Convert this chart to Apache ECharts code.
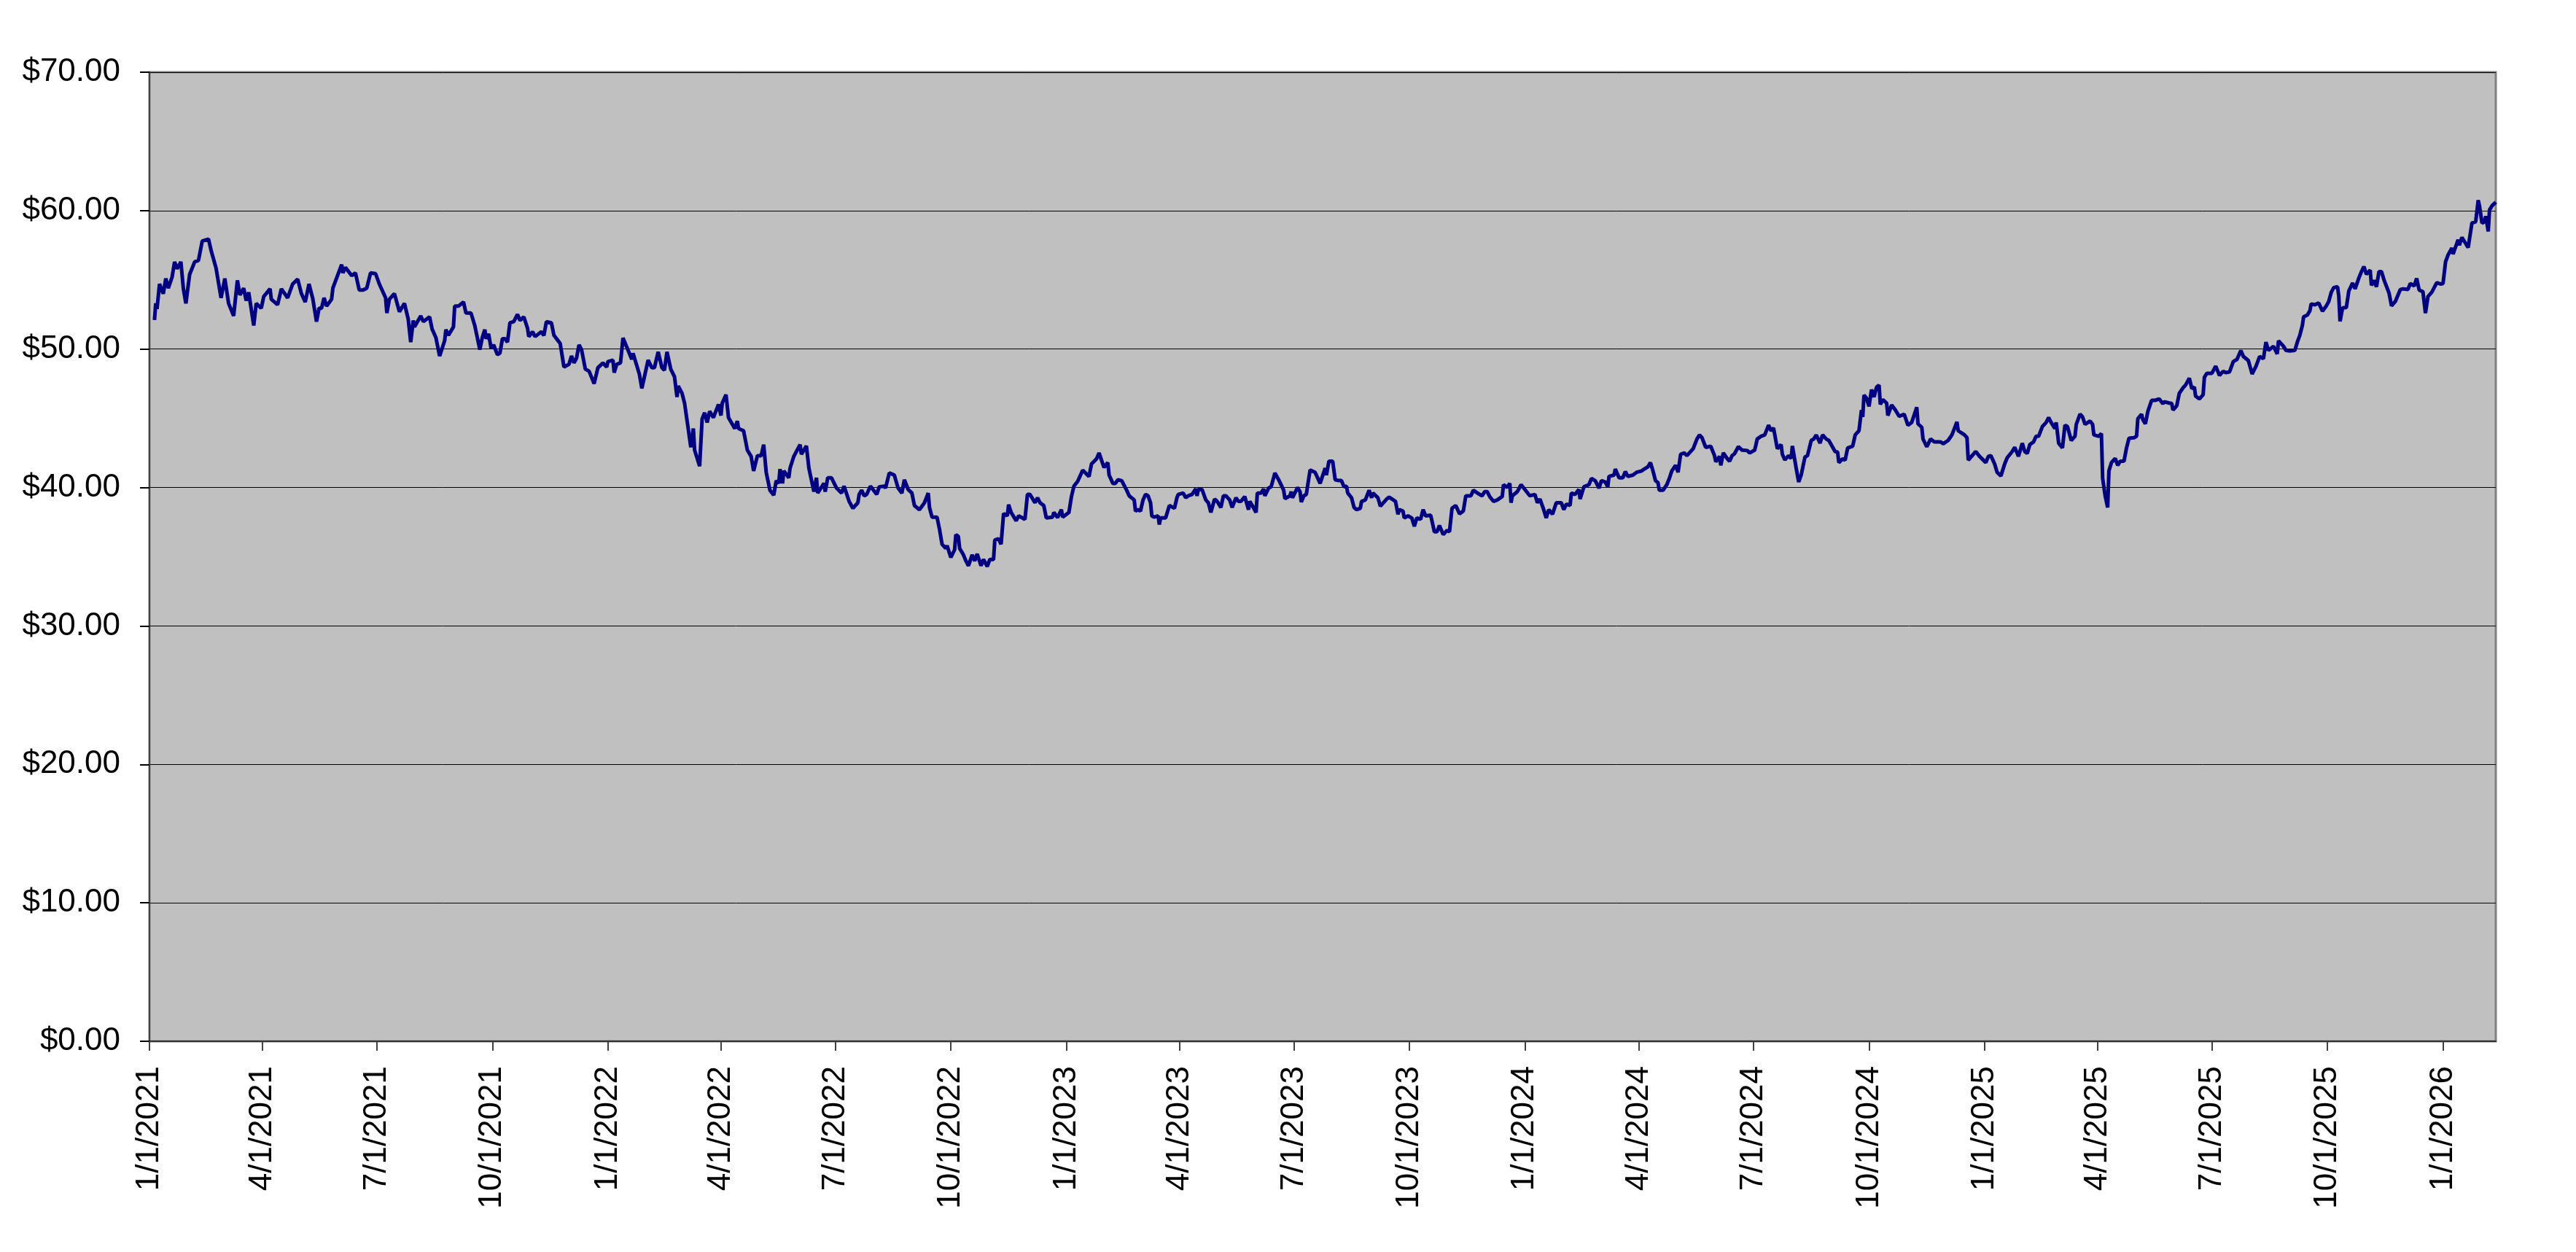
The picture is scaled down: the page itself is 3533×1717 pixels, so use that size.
<!DOCTYPE html>
<html>
<head>
<meta charset="utf-8">
<script src="https://cdn.jsdelivr.net/npm/echarts@6/dist/echarts.min.js"></script>
<style>
html,body{margin:0;padding:0;background:#ffffff;}
#chart{width:3533px;height:1717px;}
</style>
</head>
<body>
<div id="chart"></div>
<script>
// Start date of the date axis (day offsets below are counted from it)
const startDate = '1/1/2021';

// X tick labels (quarter starts)
const tickLabels = ['1/1/2021','4/1/2021','7/1/2021','10/1/2021','1/1/2022','4/1/2022','7/1/2022','10/1/2022',
  '1/1/2023','4/1/2023','7/1/2023','10/1/2023','1/1/2024','4/1/2024','7/1/2024','10/1/2024',
  '1/1/2025','4/1/2025','7/1/2025','10/1/2025','1/1/2026'];

// Y ticks
const yMin = 0, yMax = 70, yStep = 10;

// Day offsets from startDate
const dayOffsets = [
4,5,6,8,11,13,15,18,20,22,25,27,29,32,36,39,42,47,49,53,57,60,63,67,70,72,75,77,79,83,85,89,91,96,97,102,105,110,114,118,121,124,127,130,133,135,137,139,141,145,146,153,154,156,161,164,167,170,173,176,180,183,188,189,191,195,199,203,206,208,210,211,216,218,223,225,228,231,235,236,238,242,243,246,250,252,256,259,263,265,267,
268,270,272,274,277,279,281,283,285,287,290,293,295,298,301,302,305,307,312,314,316,320,322,327,330,334,336,338,340,342,344,347,350,354,357,361,364,365,369,370,372,375,377,380,384,385,390,392,397,400,402,405,408,410,412,415,418,420,421,424,426,429,431,433,434,438,440,442,444,446,449,453,455,456,459,461,466,468,469,473,476,479,481,484,487,489,491,494,497,499,501,502,504,505,509,510,513,518,519,523,525,529,531,
532,537,538,540,543,547,551,553,557,560,564,565,567,569,571,574,579,581,585,586,589,593,596,599,601,604,607,609,613,617,620,621,623,627,629,631,634,635,638,641,642,644,645,648,650,652,655,657,659,662,664,667,669,672,673,676,678,680,683,684,686,690,692,697,699,701,705,707,709,712,714,719,720,723,726,727,732,734,736,739,743,748,750,754,756,758,760,763,764,767,769,771,774,778,780,784,785,787,789,791,793,795,
797,798,800,803,804,805,809,812,814,816,818,819,823,825,827,830,833,834,835,838,841,843,845,848,850,853,855,857,860,862,865,867,869,872,875,876,878,881,882,885,887,888,891,893,896,899,903,904,908,909,910,914,916,917,919,921,924,928,932,936,937,939,942,944,947,949,951,953,954,957,959,961,964,965,968,971,973,974,978,980,985,987,992,994,995,998,999,1002,1005,1007,1009,1012,1014,1016,1020,1023,1025,1027,1030,1033,1035,1037,1040,1043,1046,1048,1052,1054,1059,
1061,1063,1065,1067,1070,1073,1077,1078,1081,1083,1084,1085,1089,1092,1095,1099,1103,1105,1107,1110,1112,1114,1117,1120,1124,1126,1128,1131,1132,1135,1138,1139,1142,1146,1148,1151,1154,1156,1159,1161,1162,1166,1167,1170,1173,1175,1177,1181,1184,1188,1190,1193,1195,1197,1199,1201,1202,1205,1208,1210,1212,1215,1217,1219,1222,1224,1229,1232,1234,1236,1239,1243,1246,1247,1250,1251,1253,1256,1258,1260,1262,1265,1268,1272,1274,1278,1280,1283,1286,1289,1291,1293,1296,1299,1300,1302,1305,1307,1308,1311,1313,1315,1318,1320,1323,
1325,1327,1330,1332,1335,1337,1338,1342,1344,1345,1348,1350,1352,1356,1358,1361,1363,1364,1365,1367,1369,1371,1373,1375,1377,1378,1380,1383,1384,1387,1390,1393,1397,1400,1403,1405,1407,1408,1411,1412,1415,1418,1421,1426,1428,1432,1435,1437,1439,1440,1445,1447,1448,1454,1457,1462,1464,1466,1469,1471,1474,1477,1479,1483,1485,1488,1491,1493,1495,1497,1500,1502,1504,1507,1510,1512,1514,1517,1518,1520,1523,1525,1527,1530,1533,1534,1537,1539,1541,1545,1547,1548,1552,1554,1555,1557,1559,1560,1562,1565,1567,1569,1572,1574,1576,1580,1582,1583,1586,1587,
1589,1591,1594,1597,1600,1603,1604,1608,1610,1611,1614,1616,1619,1621,1624,1626,1628,1629,1632,1635,1636,1638,1642,1645,1648,1651,1653,1656,1659,1662,1665,1667,1671,1674,1677,1680,1683,1685,1687,1691,1694,1695,1699,1701,1704,1708,1710,1712,1714,1715,1718,1720,1721,1724,1727,1730,1733,1735,1737,1739,1742,1743,1744,1746,1749,1751,1754,1756,1759,1761,1763,1765,1768,1769,1771,1773,1775,1777,1779,1783,1785,1788,1792,1794,1798,1800,1803,1805,1807,1810,1812,1814,1817,1821,1824,1826,1828,1830,1833,1834,1838,1839,1841,1846,1849,1852,1854,1855,1857,1859,1860,1862,1863,1865,1868
];

// Prices
const prices = [
52.1,53.3,52.9,54.7,54.0,55.1,54.4,55.2,56.3,55.8,56.3,54.35,53.3,55.4,56.3,56.4,57.8,57.95,57.15,55.85,53.7,55.1,53.3,52.4,54.96,53.9,54.4,53.5,54.1,51.7,53.3,52.95,53.8,54.35,53.6,53.2,54.35,53.7,54.7,55.05,54.0,53.4,54.7,53.65,51.98,52.95,52.95,53.7,53.1,53.6,54.4,56.1,55.5,55.9,55.3,55.5,54.26,54.26,54.4,55.5,55.45,54.7,53.7,52.6,53.6,54.0,52.7,53.3,52.16,50.5,52.07,51.6,52.4,51.98,52.33,51.45,50.84,49.5,50.6,51.4,51.0,51.6,53.1,53.1,53.4,52.6,52.6,51.7,49.96,50.84,51.4,
50.75,51.1,50.05,50.3,49.6,49.7,50.75,50.75,50.5,51.9,51.98,52.5,52.07,52.33,51.5,50.9,51.25,50.9,51.25,50.98,51.98,51.9,51.0,50.4,48.7,48.9,49.5,49.0,49.35,50.3,49.96,48.56,48.4,47.5,48.65,49.0,48.7,49.1,49.2,48.3,48.9,49.0,50.8,50.14,49.26,49.7,48.2,47.16,49.2,48.65,48.65,49.8,48.65,48.47,49.8,48.56,48.0,46.54,47.33,46.8,46.1,44.2,42.9,44.26,42.7,41.54,44.96,45.4,44.7,45.5,45.05,46.0,45.2,46.1,46.7,45.05,44.26,44.8,44.26,44.1,42.7,42.25,41.2,42.3,42.3,43.1,41.1,39.8,39.45,40.5,40.3,41.33,40.3,41.2,40.7,41.4,42.25,43.1,42.4,43.0,41.4,39.7,40.7,
39.6,40.3,39.7,40.7,40.7,39.96,39.6,40.1,39.0,38.5,38.9,39.5,39.8,39.4,39.5,40.1,39.5,40.05,40.1,39.96,41.05,40.9,39.96,39.6,40.56,39.86,39.6,38.7,38.4,38.9,39.6,38.56,37.86,37.86,36.98,35.9,35.6,35.8,34.95,35.5,36.6,36.46,35.6,35.14,34.7,34.35,35.14,34.7,35.2,34.35,34.8,34.3,34.8,34.8,36.2,36.3,35.9,38.12,37.95,38.77,38.2,37.6,37.95,37.7,39.5,39.5,38.9,39.26,38.9,38.7,37.8,37.86,38.2,37.83,38.4,37.86,38.2,39.33,40.1,40.45,41.26,40.8,41.7,42.07,42.5,41.96,41.45,41.8,40.9,40.3,40.3,40.56,40.5,39.8,39.4,39.1,38.3,38.4,38.3,39.1,39.5,39.4,
38.9,37.95,37.86,37.95,37.33,37.8,37.8,38.7,38.6,38.5,39.26,39.5,39.6,39.26,39.4,39.5,39.9,39.4,39.86,39.86,39.1,38.9,38.2,39.17,39.0,38.56,39.4,39.4,39.1,38.56,39.26,39.0,39.0,39.35,38.4,39.0,38.7,38.2,39.6,39.6,39.9,39.4,39.96,40.05,41.05,40.56,39.8,39.2,39.4,39.7,39.26,40.0,39.7,38.95,39.4,39.5,41.26,41.1,40.3,41.4,40.9,41.9,41.9,40.56,40.5,40.5,40.05,40.1,39.6,39.26,38.56,38.4,38.5,39.0,39.1,39.8,39.26,39.6,39.26,38.65,39.17,39.3,39.0,38.07,38.4,38.3,37.8,37.95,37.8,37.2,37.8,37.7,38.4,37.95,38.0,36.8,36.8,37.25,36.6,36.9,36.8,38.5,38.7,38.1,38.3,39.4,39.4,39.8,39.5,
39.4,39.7,39.7,39.35,39.0,39.1,39.35,40.2,40.0,40.3,38.9,39.4,39.7,40.2,39.86,39.4,39.5,38.9,39.17,38.4,37.8,38.4,38.07,38.9,38.9,38.4,38.8,38.7,39.6,39.5,39.86,39.17,40.05,40.2,40.65,40.5,39.96,40.5,40.4,40.05,40.8,40.9,41.33,40.7,40.7,41.15,40.8,40.9,41.1,41.2,41.33,41.5,41.8,41.2,40.5,40.35,39.8,39.8,40.2,40.65,41.2,41.6,41.1,42.4,42.5,42.3,42.8,43.5,43.8,43.6,42.9,42.98,42.3,41.86,42.25,41.6,42.5,42.1,41.9,42.3,42.45,42.95,42.7,42.67,42.5,42.7,43.5,43.7,43.8,44.5,44.1,44.3,42.8,43.1,42.4,42.0,42.3,42.1,43.0,41.4,40.4,40.9,42.2,42.3,43.4,
43.5,43.8,43.2,43.8,43.5,43.4,43.3,42.6,42.56,41.8,42.07,41.98,42.86,42.98,43.8,44.1,45.6,45.1,46.67,46.45,45.86,47.07,46.54,47.25,47.4,46.0,46.35,46.1,45.2,45.96,45.6,45.14,45.3,44.5,44.7,45.26,45.8,44.6,44.35,43.5,42.95,43.5,43.3,43.3,43.16,43.4,43.8,44.26,44.74,44.1,43.8,43.6,41.98,42.6,42.25,41.8,42.25,42.3,41.7,41.1,40.84,41.7,42.15,42.6,42.9,42.25,43.2,42.6,42.46,43.1,43.3,43.7,43.7,44.4,44.7,45.05,44.7,44.26,44.7,43.2,42.86,44.5,44.4,43.4,43.7,44.56,45.3,45.1,44.56,44.8,44.56,43.8,43.7,43.9,40.65,39.4,38.56,41.2,41.8,42.1,41.6,41.9,41.9,42.86,43.56,43.6,43.7,44.96,45.3,44.9,
44.6,45.5,46.3,46.3,46.4,46.05,46.2,46.1,46.07,45.6,45.9,46.8,47.2,47.4,47.9,47.15,47.25,46.6,46.4,46.7,47.96,48.25,48.25,48.77,48.1,48.4,48.3,48.35,49.1,49.26,49.9,49.47,49.17,48.2,48.74,49.47,49.3,50.5,49.9,50.2,49.65,50.6,50.2,49.9,49.86,49.9,50.5,51.0,51.7,52.33,52.46,52.77,53.26,53.2,53.33,52.74,53.1,53.44,54.1,54.44,54.5,53.83,52.0,52.98,53.0,54.2,54.77,54.35,55.14,55.58,55.96,55.4,55.7,54.6,54.97,54.5,55.6,55.6,55.0,54.05,53.12,53.44,54.3,54.35,54.3,54.74,54.56,55.1,54.26,54.14,52.6,53.8,54.1,54.8,54.7,54.74,56.3,56.8,57.3,56.86,57.9,57.5,58.07,57.33,59.1,59.2,60.75,60.35,59.1,59.2,59.6,58.5,60.05,60.35,60.6
];

function parseMDY(s) {
  const p = s.split('/').map(Number);
  return Date.UTC(p[2], p[0] - 1, p[1]);
}
const DAY = 86400000;
const t0 = parseMDY(startDate);
const tickDays = tickLabels.map(s => Math.round((parseMDY(s) - t0) / DAY));
const labelByDay = {};
tickDays.forEach((d, i) => { labelByDay[d] = tickLabels[i]; });

const seriesData = dayOffsets.map((d, i) => [d, prices[i]]);

const FONT = "'Liberation Sans', Arial, sans-serif";
const chart = echarts.init(document.getElementById('chart'), null, {renderer: 'canvas'});
chart.setOption({
  animation: false,
  backgroundColor: '#ffffff',
  grid: {
    left: 205, right: 110, top: 99, bottom: 289,
    show: true,
    backgroundColor: '#C0C0C0',
    borderColor: '#808080',
    borderWidth: 3
  },
  xAxis: {
    type: 'value',
    min: 0,
    max: dayOffsets[dayOffsets.length - 1],
    axisLine: {show: true, onZero: false, lineStyle: {color: '#303030', width: 2}},
    axisTick: {show: true, inside: false, length: 13, customValues: tickDays, lineStyle: {color: '#404040', width: 2}},
    axisLabel: {
      show: true,
      customValues: tickDays,
      rotate: 90,
      margin: 34,
      fontSize: 44,
      fontFamily: FONT,
      color: '#000000',
      formatter: v => labelByDay[Math.round(v)] || ''
    },
    splitLine: {show: false}
  },
  yAxis: {
    type: 'value',
    min: yMin,
    max: yMax,
    interval: yStep,
    axisLine: {show: true, lineStyle: {color: '#404040', width: 2}},
    axisTick: {show: true, inside: false, length: 13, lineStyle: {color: '#000000', width: 2}},
    axisLabel: {
      margin: 40,
      fontSize: 44,
      fontFamily: FONT,
      color: '#000000',
      formatter: v => '$' + v.toFixed(2)
    },
    splitLine: {show: true, lineStyle: {color: '#000000', width: 1}}
  },
  series: [{
    type: 'line',
    data: seriesData,
    showSymbol: false,
    symbol: 'none',
    lineStyle: {color: '#000080', width: 5},
    itemStyle: {color: '#000080'}
  }]
});
</script>
</body>
</html>
